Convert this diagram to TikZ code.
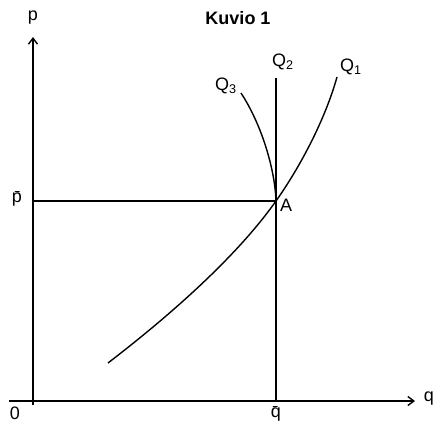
\documentclass[tikz,border=0pt]{standalone}
\usepackage{fontspec}
\setmainfont{Liberation Sans}
\usetikzlibrary{arrows.meta,positioning}
\tikzset{
  axis/.style={line width=1.4pt,-{Straight Barb[length=6pt,width=9pt,line width=1.4pt]}},
  crv/.style={line width=1.4pt},
  lbl/.style={font=\fontsize{18}{21}\selectfont,inner sep=1pt},
  ttl/.style={font=\fontsize{18}{21}\selectfont\bfseries}
}
\begin{document}
\begin{tikzpicture}[x=1pt,y=-1pt]
  \useasboundingbox (0,0) rectangle (440,429);
  % axes
  \coordinate (o) at (33,405);
  \coordinate (ptop) at (33,37);
  \coordinate (qleft) at (9,401);
  \coordinate (qright) at (415,401);
  \draw[axis] (o)--(ptop);
  \draw[axis] (qleft)--(qright);
  \node[lbl] (plbl) at (33,18) {p};
  \node[lbl] (qlbl) at (429,399) {q};
  \node[lbl] (zero) at (15,413) {0};
  \node[ttl] (title) at (238,18) {Kuvio 1};

  % equilibrium point and guides
  \coordinate (a) at (276,201);
  \coordinate (pbar) at (33,201);
  \coordinate (q2top) at (276,78);
  \coordinate (qbar) at (276,401);
  \draw[crv] (pbar)--(a);
  \draw[crv] (q2top)--(qbar);
  \node[lbl] (pbarlbl) at (17,199) {\={p}};
  \node[lbl] (qbarlbl) at (276,414) {\={q}};
  \node[lbl,anchor=west] (albl) at (279,205) {A};

  % curves
  \coordinate (q1low) at (108,363);
  \coordinate (q1top) at (337,77);
  \coordinate (q3top) at (241,93);
  \draw[crv] (q1low) .. controls (190,300) and (245,245) .. (a)
                     .. controls (300,167) and (325,120) .. (q1top);
  \draw[crv] (q3top) .. controls (262,125) and (275,170) .. (a);
  \node[lbl] (q1lbl) at (351,67) {Q\textsubscript{1}};
  \node[lbl] (q2lbl) at (283,62) {Q\textsubscript{2}};
  \node[lbl] (q3lbl) at (226,86) {Q\textsubscript{3}};
\end{tikzpicture}
\end{document}
